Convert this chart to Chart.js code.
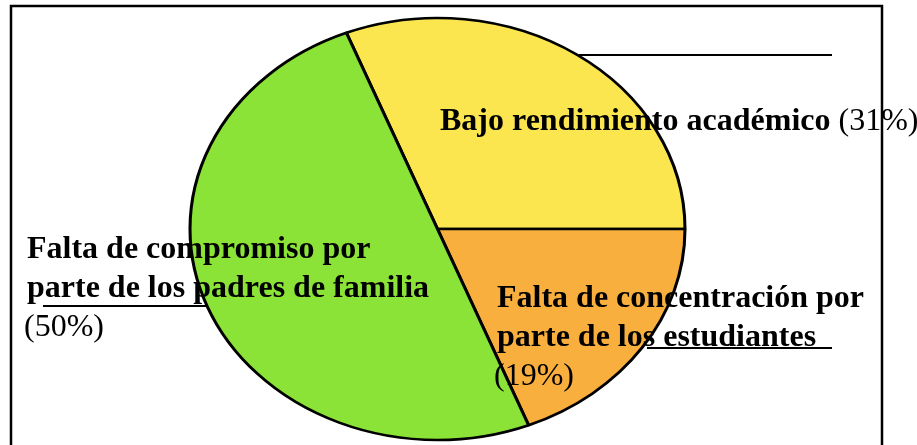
<!DOCTYPE html>
<html>
<head>
<meta charset="utf-8">
<script src="https://cdn.jsdelivr.net/npm/chart.js@4"></script>
<style>
  html, body { margin: 0; padding: 0; background: #fff; }
  #wrap { width: 917px; height: 445px; position: relative; }
</style>
</head>
<body>
<div id="wrap"><canvas id="pieChart"></canvas></div>
<script>
// data
const categories = [
  ['Bajo rendimiento académico'],
  ['Falta de concentración por', 'parte de los estudiantes'],
  ['Falta de compromiso por', 'parte de los padres de familia']
];
const values = [31, 19, 50];
const colors = ['#FBE64F', '#F9AF3E', '#8AE336'];

// where each label sits (first baseline), and its leader line
const labelSpots = [
  { x: 440, y: 130, inline: true },
  { x: 497, y: 307 },
  { x: 27, y: 258 }
];
const leaders = [
  [579, 55, 832, 55],
  [647, 348, 832, 348],
  [43, 306, 206, 306]
];

const stretchX = 247.5 / 211; // pie is drawn as an ellipse

const ellipsePlugin = {
  id: 'ellipse',
  beforeDatasetsDraw(chart) {
    const arc = chart.getDatasetMeta(0).data[0];
    const ctx = chart.ctx;
    ctx.save();
    ctx.translate(arc.x, arc.y);
    ctx.scale(stretchX, 1);
    ctx.translate(-arc.x, -arc.y);
  },
  afterDatasetsDraw(chart) {
    chart.ctx.restore();
  }
};

const labelPlugin = {
  id: 'pieLabels',
  afterDraw(chart) {
    const ctx = chart.ctx;
    const total = values.reduce((a, b) => a + b, 0);
    ctx.save();

    // frame
    ctx.strokeStyle = '#000';
    ctx.lineWidth = 2.5;
    ctx.beginPath();
    ctx.moveTo(11, 460);
    ctx.lineTo(11, 6);
    ctx.lineTo(882, 6);
    ctx.lineTo(882, 460);
    ctx.stroke();

    // leader lines
    ctx.lineWidth = 2;
    leaders.forEach(l => {
      ctx.beginPath();
      ctx.moveTo(l[0], l[1]);
      ctx.lineTo(l[2], l[3]);
      ctx.stroke();
    });

    ctx.fillStyle = '#000';
    ctx.textBaseline = 'alphabetic';
    ctx.textAlign = 'left';
    const lineH = 39;
    categories.forEach((lines, i) => {
      const spot = labelSpots[i];
      const pct = '(' + Math.round(values[i] / total * 100) + '%)';
      ctx.font = 'bold 32px "Liberation Serif", "Times New Roman", serif';
      lines.forEach((t, j) => {
        ctx.fillText(t, spot.x, spot.y + j * lineH);
      });
      if (spot.inline) {
        const w = ctx.measureText(lines[lines.length - 1] + ' ').width;
        ctx.font = '32px "Liberation Serif", "Times New Roman", serif';
        ctx.fillText(pct, spot.x + w, spot.y);
      } else {
        ctx.font = '32px "Liberation Serif", "Times New Roman", serif';
        ctx.fillText(pct, spot.x - 3, spot.y + lines.length * lineH);
      }
    });
    ctx.restore();
  }
};

new Chart(document.getElementById('pieChart'), {
  type: 'pie',
  data: {
    labels: categories.map(c => c.join(' ')),
    datasets: [{
      data: values,
      backgroundColor: colors,
      borderColor: '#000',
      borderWidth: 2.6
    }]
  },
  options: {
    responsive: true,
    maintainAspectRatio: false,
    animation: false,
    radius: 211,
    rotation: -21.6,
    layout: { padding: { left: 0, right: 42, top: 13, bottom: 0 } },
    plugins: {
      legend: { display: false },
      tooltip: { enabled: false }
    }
  },
  plugins: [ellipsePlugin, labelPlugin]
});
</script>
</body>
</html>
